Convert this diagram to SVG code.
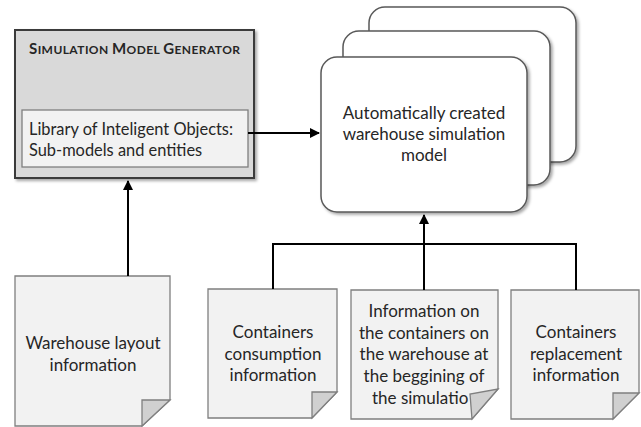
<svg xmlns="http://www.w3.org/2000/svg" width="641" height="427" viewBox="0 0 641 427">
<style>
text{font-family:Lato,"Open Sans","Liberation Sans",sans-serif;font-size:17px;fill:#262626}
.c{text-anchor:middle}
.lib{font-size:16.4px}
.title{font-weight:bold;font-size:12px}
.big{font-size:15px}
.doc{fill:#f2f2f2;stroke:#7f7f7f;stroke-width:1.3}
.fold{fill:#d0d0d0;stroke:#7f7f7f;stroke-width:1.3}
.model{fill:#ffffff;stroke:#595959;stroke-width:1.5}
.conn{fill:none;stroke:#000;stroke-width:2}
</style>
<defs>
<filter id="sh" x="-10%" y="-10%" width="130%" height="130%">
<feDropShadow dx="2" dy="2" stdDeviation="1.5" flood-color="#000" flood-opacity="0.35"/>
</filter>
<marker id="ah" viewBox="0 0 10 10" refX="9" refY="5" markerWidth="5" markerHeight="5" orient="auto" markerUnits="strokeWidth">
<path d="M0,0 L10,5 L0,10 z" fill="#000"/>
</marker>
</defs>
<rect width="641" height="427" fill="#fff"/>

<g id="generator">
<rect x="15" y="30" width="239" height="148" fill="#d9d9d9" stroke="#3a3a3a" stroke-width="2" filter="url(#sh)"/>
<text class="title" x="29" y="54" textLength="211" lengthAdjust="spacing"><tspan class="big">S</tspan>IMULATION <tspan class="big">M</tspan>ODEL <tspan class="big">G</tspan>ENERATOR</text>
<rect x="22" y="110" width="226" height="57" fill="#f2f2f2" stroke="#7f7f7f" stroke-width="1.3"/>
<text class="lib" x="29" y="135">Library of Inteligent Objects:</text>
<text class="lib" x="29" y="156">Sub-models and entities</text>
</g>

<g id="model">
<rect class="model" x="369" y="7" width="207" height="155" rx="16" filter="url(#sh)"/>
<rect class="model" x="343" y="31" width="207" height="154" rx="16" filter="url(#sh)"/>
<rect class="model" x="321" y="57" width="206" height="155" rx="16" filter="url(#sh)"/>
<text class="c" x="424" y="119">Automatically created</text>
<text class="c" x="424" y="140">warehouse simulation</text>
<text class="c" x="424" y="161">model</text>
</g>

<g id="layout">
<path class="doc" d="M15,276 H170 V400 L142,426 H15 Z"/>
<path class="fold" d="M170,400 L142,426 V400 Z"/>
<text class="c" x="93" y="349">Warehouse layout</text>
<text class="c" x="93" y="371">information</text>
</g>

<g id="consumption">
<path class="doc" d="M208,289 H337 V392 L312,418 H208 Z"/>
<path class="fold" d="M337,392 L312,418 V392 Z"/>
<text class="c" x="273" y="338">Containers</text>
<text class="c" x="273" y="360">consumption</text>
<text class="c" x="273" y="381">information</text>
</g>

<g id="initial">
<path class="doc" d="M351,290 H498 V389 L472,419 H351 Z"/>
<text class="c" x="424" y="317">Information on</text>
<text class="c" x="424" y="339">the containers on</text>
<text class="c" x="424" y="360">the warehouse at</text>
<text class="c" x="424" y="382">the beggining of</text>
<text x="372" y="404">the simulatio</text>
<path class="fold" d="M498,389 L472,419 L470,394 Z"/>
</g>

<g id="replacement">
<path class="doc" d="M511,290 H639 V393 L613,419 H511 Z"/>
<path class="fold" d="M639,393 L613,419 V393 Z"/>
<text class="c" x="576" y="338">Containers</text>
<text class="c" x="576" y="360">replacement</text>
<text class="c" x="576" y="381">information</text>
</g>

<g id="connectors">
<path class="conn" d="M248,133 H319" marker-end="url(#ah)"/>
<path class="conn" d="M128,276 V181" marker-end="url(#ah)"/>
<path class="conn" d="M424,290 V215" marker-end="url(#ah)"/>
<path class="conn" d="M273,289 V244 H576 V290"/>
</g>
</svg>
